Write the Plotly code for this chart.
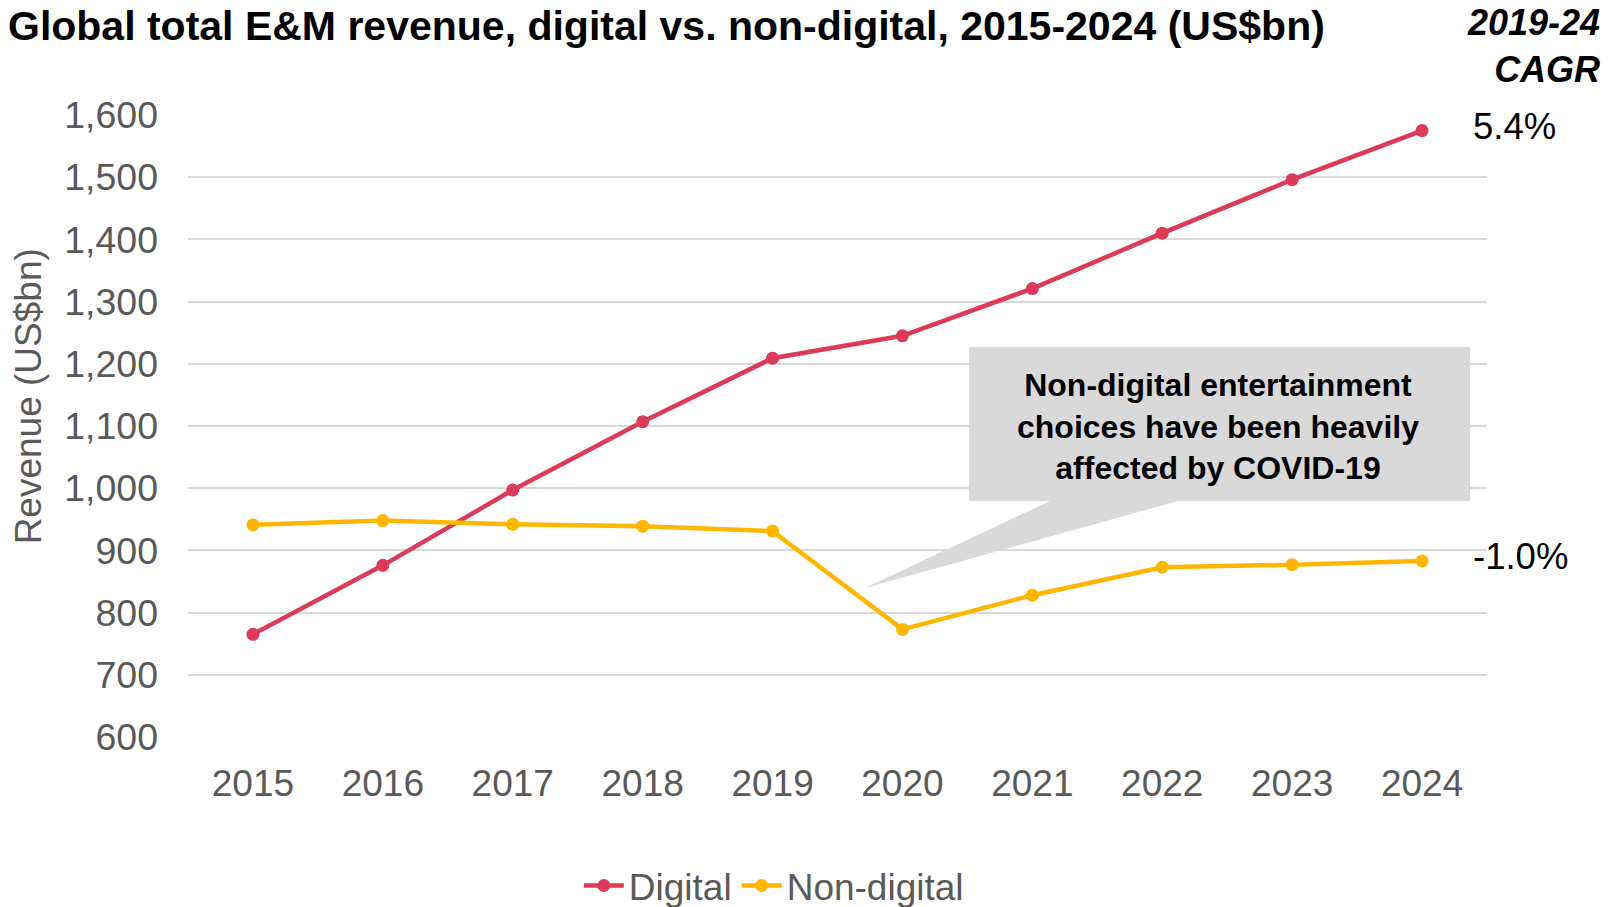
import plotly.graph_objects as go

years = [str(y) for y in range(2015, 2025)]
digital = [765, 876, 997, 1107, 1209, 1245, 1321, 1410, 1496, 1575]
non_digital = [941, 948, 942, 939, 931, 773, 828, 873, 877, 883]
cagr_labels = ["5.4%", "-1.0%"]
y_ticks = list(range(600, 1700, 100))

FONT = "Liberation Sans, Arial, sans-serif"
RED = "#DB3A58"
YELLOW = "#FFB600"
GREY_TXT = "#595959"

fig = go.Figure()
fig.add_trace(go.Scatter(
    x=years, y=digital, name="Digital", mode="lines+markers",
    line=dict(color=RED, width=4.5), marker=dict(size=13, color=RED),
))
fig.add_trace(go.Scatter(
    x=years, y=non_digital, name="Non-digital", mode="lines+markers",
    line=dict(color=YELLOW, width=4.5), marker=dict(size=13, color=YELLOW),
))

# callout box + pointer
fig.add_shape(type="path", xref="x", yref="y", layer="above",
              path="M 6.136 979.4 L 4.712 839.5 L 7.121 979.4 Z",
              fillcolor="#D9D9D9", line=dict(width=0))
fig.add_shape(type="rect", xref="x", yref="y", layer="above",
              x0=5.512, x1=9.369, y0=979.4, y1=1227,
              fillcolor="#D9D9D9", line=dict(width=0))
fig.add_annotation(x=7.43, y=1100, xref="x", yref="y", showarrow=False,
                   text="<b>Non-digital entertainment<br>choices have been heavily<br>affected by COVID-19</b>",
                   font=dict(family=FONT, size=32, color="#000000"), align="center")

# CAGR labels
for vals, lab in zip([digital, non_digital], cagr_labels):
    fig.add_annotation(x=0.988, xref="paper", y=vals[-1], yref="y", yshift=4,
                       xanchor="left", showarrow=False, text=lab,
                       font=dict(family=FONT, size=36.5, color="#000000"))

fig.add_annotation(x=1.0, xref="paper", y=1.0, yref="paper", yshift=69, xshift=115,
                   xanchor="right", yanchor="middle", showarrow=False, align="right",
                   text="<b><i>2019-24<br>CAGR</i></b>",
                   font=dict(family=FONT, size=36, color="#000000"))

# y axis title
fig.add_annotation(x=-0.123, xref="paper", y=0.548, yref="paper", textangle=-90,
                   xanchor="center", yanchor="middle",
                   showarrow=False, text="Revenue (US$bn)",
                   font=dict(family=FONT, size=37, color=GREY_TXT))

fig.update_layout(
    width=1611, height=907,
    margin=dict(l=180, r=132, t=107, b=178, autoexpand=False),
    paper_bgcolor="white", plot_bgcolor="white",
    font=dict(family=FONT, color=GREY_TXT),
    title=dict(text="<b>Global total E&M revenue, digital vs. non-digital, 2015-2024 (US$bn)</b>",
               x=0.0, xanchor="left", y=0.981, yanchor="middle",
               font=dict(family=FONT, size=41, color="#000000")),
    xaxis=dict(range=[-0.5, 9.5], showgrid=False, zeroline=False, showline=False,
               tickfont=dict(size=37, color=GREY_TXT), ticklabelstandoff=21),
    yaxis=dict(range=[600, 1600], tickvals=y_ticks, tickformat=",d",
               gridcolor="#D9D9D9", gridwidth=2, zeroline=False, showline=False,
               tickfont=dict(size=37.5, color=GREY_TXT), ticklabelstandoff=29),
    legend=dict(orientation="h", x=0.451, xanchor="center", y=-0.2395, yanchor="middle",
                font=dict(size=37, color=GREY_TXT), itemwidth=40),
    showlegend=True,
)

fig.write_html("out.html")
